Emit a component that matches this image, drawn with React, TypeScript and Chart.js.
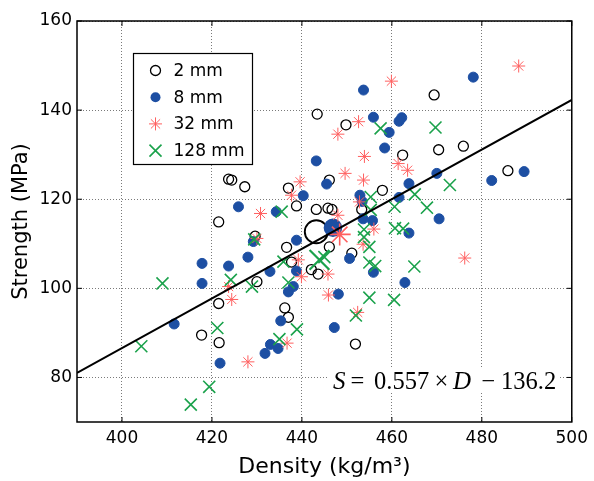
import { useEffect, useRef } from "react";
import { Chart, registerables } from "chart.js";

Chart.register(...registerables);

// ---- data ----
const xTicks = [400, 420, 440, 460, 480, 500];
const yTicks = [80, 100, 120, 140, 160];
const seriesLabels = ["2 mm", "8 mm", "32 mm", "128 mm"];

const density2mm = [469.4, 443.4, 449.8, 470.4, 475.9, 462.4, 485.8, 446.1, 457.9, 437.0, 423.7, 424.4, 427.3, 421.5, 438.8, 443.2, 445.8, 446.7, 453.3, 429.6, 436.6, 437.7, 430.0, 442.1, 443.6, 446.1, 451.1, 421.5, 417.7, 421.6, 436.2, 437.0, 451.9];
const strength2mm = [143.4, 139.1, 136.7, 131.1, 131.9, 129.9, 126.4, 124.3, 122.0, 122.5, 124.5, 124.3, 122.8, 114.9, 118.5, 117.7, 118.0, 117.7, 117.7, 111.7, 109.2, 105.9, 101.5, 104.2, 103.2, 109.3, 107.9, 96.6, 89.5, 87.8, 95.6, 93.5, 87.5];

const density8mm = [453.7, 478.1, 455.9, 461.6, 462.2, 459.4, 458.4, 443.2, 445.5, 440.3, 470.0, 489.4, 482.2, 463.8, 461.6, 452.9, 453.4, 453.6, 455.7, 470.5, 463.8, 425.9, 434.3, 429.2, 438.8, 428.0, 417.8, 423.7, 432.9, 417.8, 437.0, 438.1, 411.6, 421.8, 431.8, 433.0, 434.7, 435.3, 438.8, 450.6, 455.9, 462.9, 448.1, 447.2];
const strength8mm = [144.5, 147.4, 138.4, 137.5, 138.3, 135.0, 131.5, 128.6, 123.4, 120.8, 125.8, 126.2, 124.2, 123.5, 120.4, 120.9, 119.5, 115.6, 115.2, 115.6, 112.4, 118.3, 117.2, 110.5, 110.8, 107.0, 105.6, 105.0, 103.8, 101.1, 99.2, 100.4, 92.0, 83.2, 85.4, 87.4, 86.5, 92.7, 103.9, 106.7, 103.6, 101.3, 98.7, 91.2];

const density32mm = [488.2, 459.9, 452.6, 448.0, 453.9, 461.4, 463.5, 449.6, 453.7, 439.6, 437.7, 452.8, 448.0, 456.0, 453.6, 430.8, 430.0, 439.2, 445.8, 439.9, 445.9, 452.4, 476.2, 424.4, 423.7, 428.0, 436.7];
const strength32mm = [149.9, 146.5, 137.4, 134.6, 129.6, 128.0, 126.5, 125.8, 124.3, 123.9, 120.9, 119.4, 116.4, 113.3, 109.9, 116.8, 111.2, 106.4, 103.2, 102.6, 98.5, 94.6, 106.8, 97.5, 100.4, 83.5, 87.7];

const density128mm = [469.7, 457.5, 472.9, 465.1, 467.8, 460.6, 460.7, 462.5, 455.3, 455.3, 453.8, 453.8, 455.0, 455.0, 456.3, 465.0, 460.5, 455.0, 452.0, 435.5, 429.4, 435.9, 424.2, 428.9, 437.0, 409.0, 404.3, 415.3, 419.4, 421.2, 435.0, 438.9, 445.0];
const strength128mm = [136.1, 135.9, 123.2, 121.1, 118.1, 118.3, 113.5, 113.4, 120.5, 117.6, 113.2, 111.5, 109.3, 105.8, 105.0, 104.9, 97.4, 97.9, 93.9, 117.2, 111.0, 106.0, 101.9, 100.4, 101.3, 101.1, 87.0, 73.9, 77.9, 91.1, 88.6, 90.8, 107.0];

// series means (large markers)
const meanDensity = [443.2, 446.9, 448.4, 443.9];
const meanStrength = [112.7, 113.6, 112.1, 106.4];

// regression S = 0.557 × D − 136.2
const slope = 0.557;
const intercept = -136.2;
const lineDensity = [390, 500];

// ---- styles ----
const BLUE = "#1d4fa3";
const RED = "#ff5f5f";
const GREEN = "#1ba24c";
const FONT = "'DejaVu Sans', sans-serif";
const SERIF = "'Liberation Serif', 'Times New Roman', serif";

const markerStyles = [
  { pointStyle: "circle", r: 5, rBig: 11.5, bg: "rgba(0,0,0,0)", color: "#000", bw: 1.3 },
  { pointStyle: "circle", r: 5, rBig: 8.5, bg: BLUE, color: BLUE, bw: 1 },
  { pointStyle: "star", r: 6.5, rBig: 11, bg: RED, color: RED, bw: 1 },
  { pointStyle: "crossRot", r: 8.5, rBig: 14, bg: GREEN, color: GREEN, bw: 1.6 },
];

const seriesData = [
  [density2mm, strength2mm],
  [density8mm, strength8mm],
  [density32mm, strength32mm],
  [density128mm, strength128mm],
];

function drawMarker(ctx: CanvasRenderingContext2D, i: number, x: number, y: number) {
  const s = markerStyles[i];
  ctx.save();
  ctx.lineWidth = s.bw;
  ctx.strokeStyle = s.color;
  ctx.fillStyle = s.bg;
  if (i === 0) {
    ctx.beginPath();
    ctx.arc(x, y, s.r, 0, Math.PI * 2);
    ctx.stroke();
  } else if (i === 1) {
    ctx.beginPath();
    ctx.arc(x, y, s.r, 0, Math.PI * 2);
    ctx.fill();
  } else if (i === 2) {
    const r = s.r;
    const d = r * Math.SQRT1_2;
    ctx.beginPath();
    ctx.moveTo(x - r, y); ctx.lineTo(x + r, y);
    ctx.moveTo(x, y - r); ctx.lineTo(x, y + r);
    ctx.moveTo(x - d, y - d); ctx.lineTo(x + d, y + d);
    ctx.moveTo(x - d, y + d); ctx.lineTo(x + d, y - d);
    ctx.stroke();
  } else {
    const d = s.r * Math.SQRT1_2;
    ctx.beginPath();
    ctx.moveTo(x - d, y - d); ctx.lineTo(x + d, y + d);
    ctx.moveTo(x - d, y + d); ctx.lineTo(x + d, y - d);
    ctx.stroke();
  }
  ctx.restore();
}

const decorPlugin = {
  id: "decor",
  afterDatasetsDraw(chart: any) {
    const { ctx, chartArea: ca, scales } = chart;
    const xs = scales.x;
    const ys = scales.y;
    ctx.save();

    // equation with white background
    const eqLeft = ca.left + 256;
    const eqBase = ca.top + 368;
    ctx.fillStyle = "#fff";
    ctx.fillRect(eqLeft - 6, eqBase - 20, 231, 24);
    ctx.fillStyle = "#000";
    ctx.textBaseline = "alphabetic";
    const ital = `italic 25px ${SERIF}`;
    const reg = `24.5px ${SERIF}`;
    const pieces: [string, string, number, CanvasTextAlign][] = [
      ["S", ital, 0, "left"],
      ["=", reg, 24.5, "center"],
      ["0.557", reg, 41, "left"],
      ["×", reg, 108.5, "center"],
      ["D", ital, 120, "left"],
      ["−", reg, 155.5, "center"],
      ["136.2", reg, 168, "left"],
    ];
    for (const [t, f, dx, al] of pieces) {
      ctx.font = f;
      ctx.textAlign = al;
      ctx.fillText(t, eqLeft + dx, eqBase);
    }

    // frame
    ctx.strokeStyle = "#000";
    ctx.lineWidth = 1.5;
    ctx.strokeRect(ca.left, ca.top, ca.right - ca.left, ca.bottom - ca.top);

    // inner tick marks
    ctx.lineWidth = 1;
    ctx.beginPath();
    for (const v of xTicks) {
      const px = xs.getPixelForValue(v);
      ctx.moveTo(px, ca.bottom); ctx.lineTo(px, ca.bottom - 5);
      ctx.moveTo(px, ca.top); ctx.lineTo(px, ca.top + 5);
    }
    for (const v of yTicks) {
      const py = ys.getPixelForValue(v);
      ctx.moveTo(ca.left, py); ctx.lineTo(ca.left + 5, py);
      ctx.moveTo(ca.right, py); ctx.lineTo(ca.right - 5, py);
    }
    ctx.stroke();

    // legend
    const lx = ca.left + 56.5;
    const ly = ca.top + 32.5;
    ctx.fillStyle = "#fff";
    ctx.fillRect(lx, ly, 119, 111);
    ctx.strokeStyle = "#000";
    ctx.lineWidth = 1.2;
    ctx.strokeRect(lx, ly, 119, 111);
    ctx.font = `17px ${FONT}`;
    ctx.textAlign = "left";
    ctx.textBaseline = "middle";
    seriesLabels.forEach((lab, i) => {
      const y = ly + 17 + i * 26.7;
      drawMarker(ctx, i, lx + 22, y);
      ctx.fillStyle = "#000";
      ctx.fillText(lab, lx + 40, y + 1);
    });

    ctx.restore();
  },
};

export default function App() {
  const ref = useRef<HTMLCanvasElement | null>(null);

  useEffect(() => {
    if (!ref.current) return;
    const datasets: any[] = [];
    // regression line (drawn on top)
    datasets.push({
      label: "fit",
      data: lineDensity.map((d) => ({ x: d, y: slope * d + intercept })),
      showLine: true,
      borderColor: "#000",
      borderWidth: 2,
      pointRadius: 0,
      order: 0,
    });
    seriesData.forEach(([xs, ys], i) => {
      const s = markerStyles[i];
      datasets.push({
        label: seriesLabels[i],
        data: xs.map((x, k) => ({ x, y: ys[k] })),
        pointStyle: s.pointStyle,
        pointRadius: s.r,
        pointBackgroundColor: s.bg,
        pointBorderColor: s.color,
        pointBorderWidth: s.bw,
        showLine: false,
        order: 10 - i * 2,
      });
      datasets.push({
        label: seriesLabels[i] + " mean",
        data: [{ x: meanDensity[i], y: meanStrength[i] }],
        pointStyle: s.pointStyle,
        pointRadius: s.rBig,
        pointBackgroundColor: s.bg,
        pointBorderColor: s.color,
        pointBorderWidth: s.bw + 0.6,
        showLine: false,
        order: 9 - i * 2,
      });
    });

    const chart = new Chart(ref.current, {
      type: "scatter",
      data: { datasets },
      plugins: [decorPlugin],
      options: {
        animation: false,
        responsive: true,
        maintainAspectRatio: false,
        events: [],
        layout: { padding: { top: 21, right: 18, left: 0, bottom: 0 } },
        plugins: { legend: { display: false }, tooltip: { enabled: false } },
        scales: {
          x: {
            type: "linear",
            min: 390,
            max: 500,
            afterBuildTicks: (s: any) => {
              s.ticks = xTicks.map((v) => ({ value: v }));
            },
            afterFit: (s: any) => {
              s.height = 59;
            },
            ticks: { color: "#000", font: { family: FONT, size: 17 }, padding: 6 },
            grid: { color: "#7a7a7a", lineWidth: 1, drawTicks: false },
            border: { display: false, dash: [1, 2] },
            title: {
              display: true,
              text: "Density (kg/m³)",
              color: "#000",
              font: { family: FONT, size: 22 },
              padding: { top: 0, bottom: 1 },
            },
          },
          y: {
            type: "linear",
            min: 70,
            max: 160,
            afterBuildTicks: (s: any) => {
              s.ticks = yTicks.map((v) => ({ value: v }));
            },
            afterFit: (s: any) => {
              s.width = 77;
            },
            ticks: { color: "#000", font: { family: FONT, size: 17 }, padding: 5 },
            grid: { color: "#7a7a7a", lineWidth: 1, drawTicks: false },
            border: { display: false, dash: [1, 2] },
            title: {
              display: true,
              text: "Strength (MPa)",
              color: "#000",
              font: { family: FONT, size: 21 },
              padding: { top: 9, bottom: 0 },
            },
          },
        },
      },
    });
    return () => chart.destroy();
  }, []);

  return (
    <div style={{ position: "absolute", left: 0, top: 0, width: 594, height: 481, background: "#fff" }}>
      <canvas ref={ref} />
    </div>
  );
}
